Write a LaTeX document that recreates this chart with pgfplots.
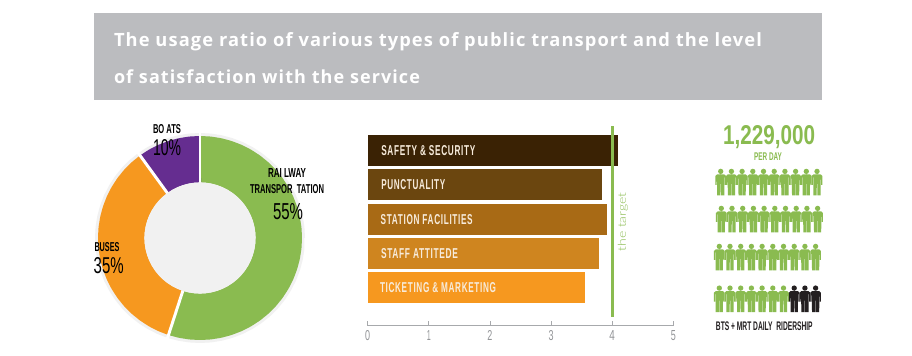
\documentclass[border=0pt]{standalone}
\usepackage{fontspec}
\usepackage{graphicx}
\usepackage{pgfplots}
\pgfplotsset{compat=1.18}
\setmainfont{Liberation Sans}
\newfontfamily\titlefont[LetterSpace=6]{Open Sans}
\newfontfamily\lightfont[UprightFont=* Light]{Lato}
\newfontfamily\barfont[LetterSpace=8]{Liberation Sans}
\definecolor{band}{HTML}{BBBCBF}
\definecolor{rim}{HTML}{F1F1F1}
\definecolor{tgreen}{HTML}{8ABB50}
\definecolor{torange}{HTML}{F6981F}
\definecolor{tpurple}{HTML}{652D90}
\definecolor{ink}{HTML}{231F20}
\definecolor{barA}{HTML}{3A2204}
\definecolor{barB}{HTML}{6B460F}
\definecolor{barC}{HTML}{A86A15}
\definecolor{barD}{HTML}{CF851F}
\definecolor{barE}{HTML}{F6981F}
\definecolor{axgrey}{HTML}{A7A9AC}
\definecolor{labgrey}{HTML}{939598}
\definecolor{barlabel}{HTML}{F7EBDB}
\newcommand{\rb}[3]{\resizebox{0.75\dimexpr #1pt\relax}{0.75\dimexpr #2pt\relax}{#3}}
\newcommand{\pp}[2]{\pgfpoint{#1*0.75pt}{#2*0.75pt}}
\pgfdeclareplotmark{person}{%
  \pgfpathcircle{\pp{0}{10.6}}{2.0pt}%
  \pgfpathmoveto{\pp{-3.6}{7.6}}%
  \pgfpathlineto{\pp{3.6}{7.6}}%
  \pgfpathlineto{\pp{5.35}{6}}%
  \pgfpathlineto{\pp{5.35}{-3}}%
  \pgfpathlineto{\pp{4.2}{-3}}%
  \pgfpathlineto{\pp{4.1}{4.5}}%
  \pgfpathlineto{\pp{3.75}{4.5}}%
  \pgfpathlineto{\pp{3.6}{-13.5}}%
  \pgfpathlineto{\pp{0.3}{-13.5}}%
  \pgfpathlineto{\pp{0.25}{-2}}%
  \pgfpathlineto{\pp{-0.25}{-2}}%
  \pgfpathlineto{\pp{-0.3}{-13.5}}%
  \pgfpathlineto{\pp{-3.6}{-13.5}}%
  \pgfpathlineto{\pp{-3.75}{4.5}}%
  \pgfpathlineto{\pp{-4.1}{4.5}}%
  \pgfpathlineto{\pp{-4.2}{-3}}%
  \pgfpathlineto{\pp{-5.35}{-3}}%
  \pgfpathlineto{\pp{-5.35}{6}}%
  \pgfpathclose
  \pgfusepathqfill
}
\begin{document}
\begin{tikzpicture}
\path[use as bounding box,fill=white] (0pt,0pt) rectangle (684pt,267pt);
\fill[band] (70.5pt,192pt) rectangle (616.5pt,257.25pt);

% ---------- donut
\begin{axis}[at={(67.5pt,6pt)},anchor=south west,scale only axis,width=165pt,height=165pt,
  hide axis,xmin=-110,xmax=110,ymin=-110,ymax=110,clip=false]
\addplot[fill=rim,draw=none,data cs=polar] coordinates {
 (0,105)(6,105)(12,105)(18,105)(24,105)(30,105)(36,105)(42,105)(48,105)(54,105)(60,105)(66,105)(72,105)(78,105)(84,105)
 (90,105)(96,105)(102,105)(108,105)(114,105)(120,105)(126,105)(132,105)(138,105)(144,105)(150,105)(156,105)(162,105)(168,105)(174,105)
 (180,105)(186,105)(192,105)(198,105)(204,105)(210,105)(216,105)(222,105)(228,105)(234,105)(240,105)(246,105)(252,105)(258,105)(264,105)
 (270,105)(276,105)(282,105)(288,105)(294,105)(300,105)(306,105)(312,105)(318,105)(324,105)(330,105)(336,105)(342,105)(348,105)(354,105)} \closedcycle;
% Railway 55 %
\addplot[draw=tgreen,line width=34.8pt,line join=round,data cs=polar] coordinates {
 (90,78.8)(84,78.8)(78,78.8)(72,78.8)(66,78.8)(60,78.8)(54,78.8)(48,78.8)(42,78.8)(36,78.8)(30,78.8)(24,78.8)(18,78.8)(12,78.8)(6,78.8)
 (0,78.8)(-6,78.8)(-12,78.8)(-18,78.8)(-24,78.8)(-30,78.8)(-36,78.8)(-42,78.8)(-48,78.8)(-54,78.8)(-60,78.8)(-66,78.8)(-72,78.8)(-78,78.8)(-84,78.8)
 (-90,78.8)(-96,78.8)(-102,78.8)(-108,78.8)};
% Buses 35 %
\addplot[draw=torange,line width=34.8pt,line join=round,data cs=polar] coordinates {
 (252,78.8)(246,78.8)(240,78.8)(234,78.8)(228,78.8)(222,78.8)(216,78.8)(210,78.8)(204,78.8)(198,78.8)(192,78.8)
 (186,78.8)(180,78.8)(174,78.8)(168,78.8)(162,78.8)(156,78.8)(150,78.8)(144,78.8)(138,78.8)(132,78.8)(126,78.8)};
% Boats 10 %
\addplot[draw=tpurple,line width=34.8pt,line join=round,data cs=polar] coordinates {
 (126,78.8)(120,78.8)(114,78.8)(108,78.8)(102,78.8)(96,78.8)(90,78.8)};
\addplot[draw=white,line width=2.2pt,data cs=polar] coordinates {(90,55)(90,106)};
\addplot[draw=white,line width=2.2pt,data cs=polar] coordinates {(-108,55)(-108,106)};
\addplot[draw=white,line width=2.2pt,data cs=polar] coordinates {(126,55)(126,106)};
\addplot[fill=rim,draw=none,data cs=polar] coordinates {
 (0,55.6)(6,55.6)(12,55.6)(18,55.6)(24,55.6)(30,55.6)(36,55.6)(42,55.6)(48,55.6)(54,55.6)(60,55.6)(66,55.6)(72,55.6)(78,55.6)(84,55.6)
 (90,55.6)(96,55.6)(102,55.6)(108,55.6)(114,55.6)(120,55.6)(126,55.6)(132,55.6)(138,55.6)(144,55.6)(150,55.6)(156,55.6)(162,55.6)(168,55.6)(174,55.6)
 (180,55.6)(186,55.6)(192,55.6)(198,55.6)(204,55.6)(210,55.6)(216,55.6)(222,55.6)(228,55.6)(234,55.6)(240,55.6)(246,55.6)(252,55.6)(258,55.6)(264,55.6)
 (270,55.6)(276,55.6)(282,55.6)(288,55.6)(294,55.6)(300,55.6)(306,55.6)(312,55.6)(318,55.6)(324,55.6)(330,55.6)(336,55.6)(342,55.6)(348,55.6)(354,55.6)} \closedcycle;
\end{axis}

% ---------- bars
\begin{axis}[at={(275.775pt,22.5pt)},anchor=south west,scale only axis,width=229.2pt,height=150pt,
  xmin=0,xmax=5,ymin=-1.117,ymax=4.714,clip=false,
  axis x line=bottom,axis y line=none,axis line style={draw=axgrey,line width=0.75pt,-},
  xbar,bar shift=0pt,bar width=23.25pt,
  xtick={0,1,2,3,4,5},xticklabels={\rb{5}{10}{0},\rb{4}{10}{1},\rb{5}{10}{2},\rb{5}{10}{3},\rb{5.5}{10}{4},\rb{5}{10}{5}},
  tick align=inside,tick pos=bottom,major tick length=3.75pt,
  tick style={draw=axgrey,line width=0.6pt},
  xticklabel style={text=labgrey,yshift=0.5pt}]
\addplot[fill=barE,draw=none] coordinates {(3.55,0)};
\addplot[fill=barD,draw=none] coordinates {(3.79,1)};
\addplot[fill=barC,draw=none] coordinates {(3.92,2)};
\addplot[fill=barB,draw=none] coordinates {(3.83,3)};
\addplot[fill=barA,draw=none] coordinates {(4.10,4)};
\addplot[sharp plot,fill=none,draw=tgreen,line width=2.25pt,mark=none] coordinates {(4,-0.854)(4,4.714)};
\end{axis}

% ---------- people
\begin{axis}[at={(525pt,27pt)},anchor=south west,scale only axis,width=105pt,height=120pt,
  hide axis,xmin=700,xmax=840,ymin=36,ymax=196,clip=false]
\addplot[only marks,mark=person,mark options={fill=tgreen,draw=none}] coordinates {
 (720.7,174)(731.4,174)(742.1,174)(752.8,174)(763.5,174)(774.2,174)(784.9,174)(795.6,174)(806.3,174)(817,174)
 (721.3,137)(732,137)(742.7,137)(753.4,137)(764.1,137)(774.8,137)(785.5,137)(796.2,137)(806.9,137)(817.6,137)
 (719.3,99)(730,99)(740.7,99)(751.4,99)(762.1,99)(772.8,99)(783.5,99)
 (794.2,99)(804.9,99)(815.6,99)
 (719.3,57.3)(730,57.3)(740.7,57.3)(751.4,57.3)(762.1,57.3)(772.8,57.3)(783.5,57.3)};
\addplot[only marks,mark=person,mark options={fill=ink,draw=none}] coordinates {
 (794.2,57.3)(804.9,57.3)(815.6,57.3)};
\end{axis}

\begin{scope}[x=0.75pt,y=0.75pt,every node/.style={inner sep=0pt,outer sep=0pt}]
% title
\node[anchor=base west,text=white] at (114,309) {\resizebox{486pt}{!}{\titlefont\bfseries The usage ratio of various types of public transport and the level}};
\node[anchor=base west,text=white] at (114,272) {\resizebox{229.5pt}{!}{\titlefont\bfseries of satisfaction with the service}};
% donut labels
\node at (167,227) {\rb{28}{9}{\bfseries BO ATS}};
\node at (167,208) {\rb{28}{16}{10\%}};
\node at (287,183) {\rb{38}{9}{\bfseries RAI LWAY}};
\node at (287,167) {\rb{74}{9}{\bfseries TRANSPOR~~TATION}};
\node at (288,144) {\rb{30}{16}{55\%}};
\node at (107,109) {\rb{25}{9}{\bfseries BUSES}};
\node at (108.7,90) {\rb{30}{16}{35\%}};
% bar labels
\node[anchor=west,text=barlabel] at (381.3,205.5) {\rb{94}{10}{\barfont\bfseries SAFETY \& SECURITY}};
\node[anchor=west,text=barlabel] at (381.3,171.2) {\rb{64}{10}{\barfont\bfseries PUNCTUALITY}};
\node[anchor=west,text=barlabel] at (380.7,136.8) {\rb{92}{10}{\barfont\bfseries STATION FACILITIES}};
\node[anchor=west,text=barlabel] at (381,102.5) {\rb{77}{10}{\barfont\bfseries STAFF ATTITEDE}};
\node[anchor=west,text=barlabel] at (380,68.3) {\rb{116}{10}{\barfont\bfseries TICKETING \& MARKETING}};
\node[rotate=90,text=tgreen] at (623,134) {\rb{59}{8}{\lightfont the target}};
% people labels
\node[text=tgreen] at (769,219) {\rb{92}{19}{\bfseries 1,229,000}};
\node[text=tgreen] at (768,199) {\rb{27.7}{7.7}{\bfseries PER DAY}};
\node[text=ink] at (764.3,29.3) {\rb{96.7}{8.7}{\bfseries BTS + MRT DAILY~~RIDERSHIP}};
\end{scope}
\end{tikzpicture}
\end{document}
